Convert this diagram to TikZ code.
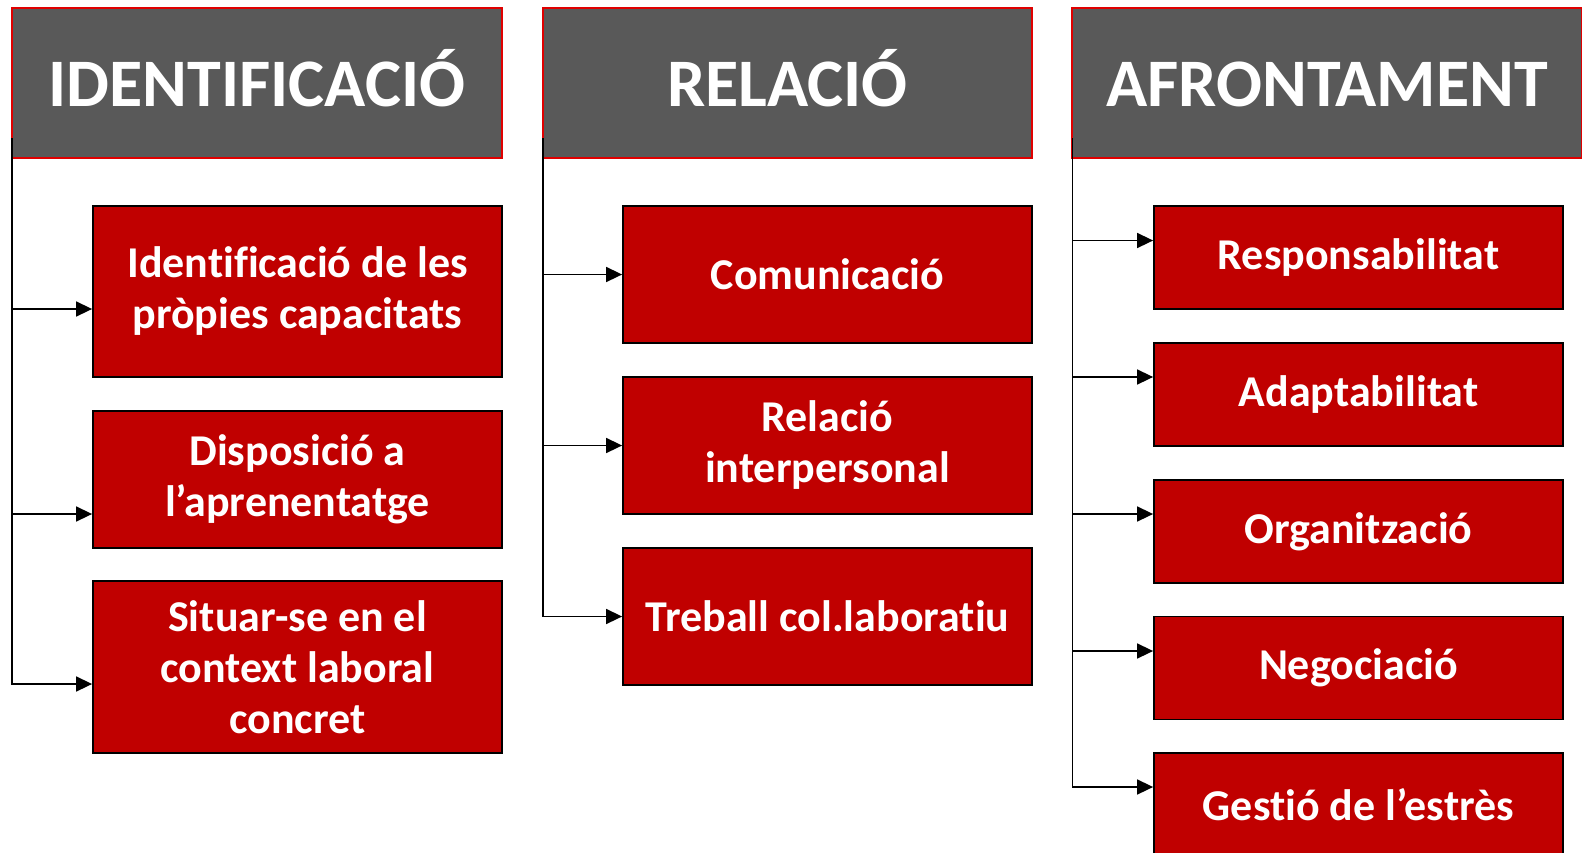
\documentclass[tikz,border=0pt]{standalone}
\usepackage{fontspec}
\setmainfont{Carlito}[Ligatures=NoCommon]
\usetikzlibrary{arrows.meta}
\definecolor{headgray}{HTML}{595959}
\definecolor{boxred}{HTML}{C00000}
\definecolor{edgered}{HTML}{E00000}
\tikzset{
    head/.style={draw=edgered,line width=1.2pt,fill=headgray,text=white,inner sep=0pt,
        minimum height=150pt,text height=46pt,text depth=0pt,font=\bfseries\fontsize{68}{70}\selectfont},
    item/.style={draw=black,line width=1.8pt,fill=boxred,text=white,inner sep=0pt,align=center,
        minimum width=409pt,font=\bfseries\fontsize{44}{51}\selectfont},
    conn/.style={line width=1.6pt,-{Triangle[length=16pt,width=15pt]}}
}
\begin{document}
\begin{tikzpicture}[x=1pt,y=-1pt]
            \useasboundingbox (0,0) rectangle (1582,852);
            \clip (0,0) rectangle (1582,852);

            \node[head,minimum width=490pt] (H1) at (257, 83) {IDENTIFICACIÓ};
            \node[head,minimum width=489pt] (H2) at (787.5, 83) {RELACIÓ};
            \node[head,minimum width=510pt] (H3) at (1327, 83) {AFRONTAMENT};

            \node[item,minimum height=171pt] (A1) at (297.5, 291.5) {Identificació de les\\pròpies capacitats};
            \node[item,minimum height=137pt] (A2) at (297.5, 479.5) {Disposició a\\l’aprenentatge};
            \node[item,minimum height=172pt] (A3) at (297.5, 667) {Situar-se en el\\context laboral\\concret};

            \node[item,minimum height=137pt] (B1) at (827.5, 274.5) {Comunicació};
            \node[item,minimum height=137pt] (B2) at (827.5, 445.5) {Relació\\interpersonal};
            \node[item,minimum height=137pt] (B3) at (827.5, 616.5) {Treball col.laboratiu};

            \node[item,minimum height=103pt] (C1) at (1358.5, 257.5) {Responsabilitat};
            \node[item,minimum height=103pt] (C2) at (1358.5, 394.5) {Adaptabilitat};
            \node[item,minimum height=103pt] (C3) at (1358.5, 531.5) {Organització};
            \node[item,minimum height=103pt] (C4) at (1358.5, 668) {Negociació};
            \node[item,minimum height=103pt] (C5) at (1358.5, 804.5) {Gestió de l’estrès};

            \coordinate (T1) at (12, 138);
            \coordinate (T2) at (543, 138);
            \coordinate (T3) at (1072.5, 138);

            \draw[conn] (T1) |- ([yshift=-17.5pt]A1.west);
            \draw[conn] (T1) |- ([yshift=-34.5pt]A2.west);
            \draw[conn] (T1) |- ([yshift=-17pt]A3.west);

            \draw[conn] (T2) |- (B1.west);
            \draw[conn] (T2) |- (B2.west);
            \draw[conn] (T2) |- (B3.west);

            \draw[conn] (T3) |- ([yshift=17pt]C1.west);
            \draw[conn] (T3) |- ([yshift=17.5pt]C2.west);
            \draw[conn] (T3) |- ([yshift=17.5pt]C3.west);
            \draw[conn] (T3) |- ([yshift=17pt]C4.west);
            \draw[conn] (T3) |- ([yshift=17.5pt]C5.west);
        \end{tikzpicture}
\end{document}
